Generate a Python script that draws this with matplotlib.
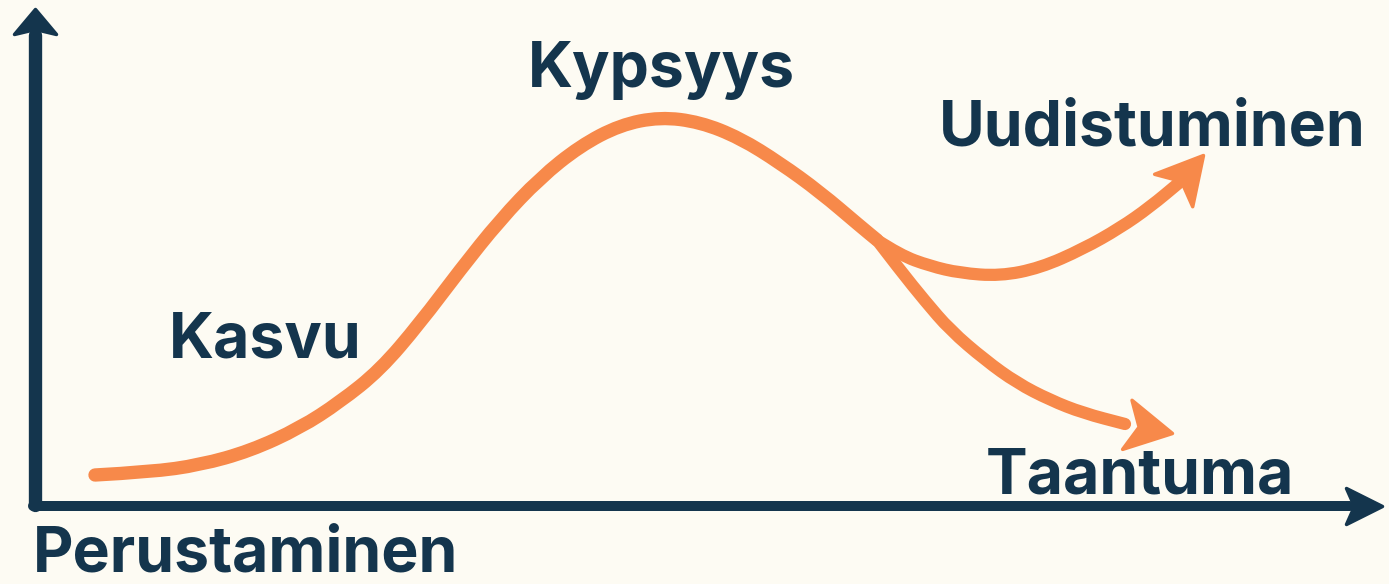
import matplotlib
matplotlib.use("Agg")
import matplotlib.pyplot as plt
import numpy as np
from matplotlib.path import Path
from matplotlib.patches import PathPatch
from matplotlib.markers import MarkerStyle
from matplotlib.transforms import Affine2D

# lifecycle curve (time, level)
main_t = [0.55, 1.10, 1.60, 2.10, 2.60, 3.00, 3.40, 3.80, 4.20, 4.60, 5.00, 5.40, 5.80, 6.20,
          6.60, 7.00, 7.40, 7.80, 8.20, 8.37]
main_v = [0.50, 0.56, 0.70, 0.98, 1.44, 1.96, 2.60, 3.54, 4.60, 5.60, 6.44, 7.08, 7.50, 7.66,
          7.56, 7.24, 6.74, 6.16, 5.48, 5.20]

renew_t = [8.37, 8.60, 8.90, 9.20, 9.60, 10.00, 10.43, 10.80, 11.10, 11.40, 11.63]
renew_v = [5.20, 4.90, 4.68, 4.54, 4.48, 4.64, 5.02, 5.44, 5.86, 6.36, 6.90]

decline_t = [8.37, 8.60, 8.85, 9.10, 9.45, 9.77, 10.10, 10.43, 10.85, 11.32]
decline_v = [5.20, 4.60, 3.98, 3.40, 2.80, 2.34, 2.00, 1.74, 1.52, 1.34]

stages = ["Perustaminen", "Kasvu", "Kypsyys", "Uudistuminen", "Taantuma"]
stage_pos = [(2.06, -1.44), (2.25, 2.84), (6.21, 8.26), (11.12, 7.1), (11.0, 0.14)]

BG = "#FDFBF3"
NAVY = "#14354D"
ORANGE = "#F7894A"


def smooth(ts, vs):
    # quadratic bezier through the midpoints of the read points
    pts = list(zip(ts, vs))
    verts, codes = [pts[0]], [Path.MOVETO]
    for i in range(1, len(pts) - 1):
        mid = ((pts[i][0] + pts[i + 1][0]) / 2, (pts[i][1] + pts[i + 1][1]) / 2)
        verts += [pts[i], mid]
        codes += [Path.CURVE3, Path.CURVE3]
    verts.append(pts[-1])
    codes.append(Path.LINETO)
    return Path(verts, codes)


def head(length, width, notch):
    # arrowhead with a notched back, tip at the origin, pointing right
    verts = [(0, 0), (-length, width / 2), (-length + notch, 0), (-length, -width / 2), (0, 0)]
    codes = [Path.MOVETO, Path.LINETO, Path.LINETO, Path.LINETO, Path.CLOSEPOLY]
    return Path(verts, codes), 2 * length * 0.72


def draw_head(ax, tip, prev, color, length, width, notch):
    p0 = ax.transData.transform(prev)
    p1 = ax.transData.transform(tip)
    ang = np.degrees(np.arctan2(p1[1] - p0[1], p1[0] - p0[0]))
    path, ms = head(length, width, notch)
    m = MarkerStyle(path, transform=Affine2D().rotate_deg(ang))
    ax.plot([tip[0]], [tip[1]], marker=m, markersize=ms, color=color, mec=color, mew=2.5,
            linestyle="none", zorder=5)


fig = plt.figure(figsize=(13.89, 5.84), dpi=100, facecolor=BG)
ax = fig.add_axes([0, 0, 1, 1])
ax.set_facecolor(BG)
ax.set_xlim(-0.4, 13.49)
ax.set_ylim(-1.68, 10)
ax.axis("off")

# axes with arrowheads
ax.plot([-0.07, 13.1], [-0.12, -0.12], color=NAVY, lw=7.2, solid_capstyle="round", zorder=2)
ax.plot([-0.05, -0.05], [-0.1, 9.3], color=NAVY, lw=9.6, solid_capstyle="round", zorder=2)
draw_head(ax, (13.42, -0.12), (13.0, -0.12), NAVY, 36, 36, 8)
draw_head(ax, (-0.05, 9.82), (-0.05, 9.2), NAVY, 25, 42, 5)

# curve and branches
for tt, vv in [(renew_t, renew_v), (decline_t, decline_v)]:
    ax.add_patch(PathPatch(smooth(tt[:-1], vv[:-1]), fill=False, edgecolor=ORANGE, lw=8.8,
                           capstyle="round", joinstyle="round", zorder=4))
    draw_head(ax, (tt[-1], vv[-1]), (tt[-2], vv[-2]), ORANGE, 46, 50, 12)
ax.add_patch(PathPatch(smooth(main_t, main_v), fill=False, edgecolor=ORANGE, lw=9.6,
                       capstyle="round", joinstyle="round", zorder=4))

for name, (x, y) in zip(stages, stage_pos):
    ax.text(x, y, name, ha="center", va="baseline", fontsize=45, fontweight="bold",
            family="Inter", color=NAVY, zorder=6)

fig.savefig("out.png", dpi=100, facecolor=BG)
